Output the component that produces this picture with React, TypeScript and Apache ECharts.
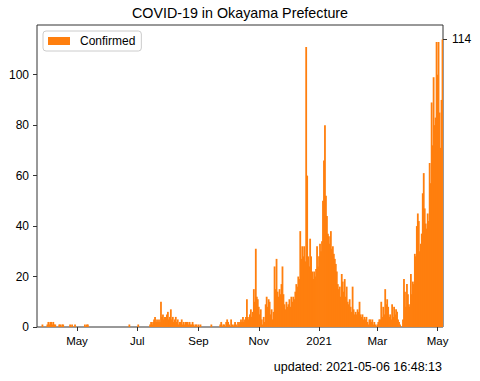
import React, { useEffect, useRef } from 'react';
import * as echarts from 'echarts';

// Daily confirmed cases, Okayama Prefecture, from 2020-03-22 to 2021-05-06
const startDateUTC = Date.UTC(2020, 2, 22);
const mar2020 = [0, 0, 0, 0, 0, 1, 0, 0, 0, 0];
const apr2020 = [1, 2, 1, 2, 2, 1, 2, 1, 1, 0, 0, 0, 1, 1, 0, 1, 1, 0, 0, 0, 0, 0, 0, 1, 0, 1, 0, 0, 1, 0];
const may2020 = [0, 0, 0, 0, 0, 0, 0, 0, 1, 0, 1, 1, 0, 0, 0, 0, 0, 0, 0, 0, 0, 0, 0, 0, 0, 0, 0, 0, 0, 0, 0];
const jun2020 = [0, 0, 0, 0, 0, 0, 0, 0, 0, 0, 0, 0, 0, 0, 0, 0, 0, 0, 0, 0, 0, 0, 1, 0, 0, 0, 0, 0, 0, 0];
const jul2020 = [0, 1, 0, 0, 0, 0, 0, 0, 0, 0, 0, 0, 0, 1, 2, 1, 2, 3, 4, 2, 3, 2, 3, 2, 10, 4, 5, 3, 4, 4, 5];
const aug2020 = [6, 3, 4, 7, 3, 4, 2, 3, 4, 2, 3, 1, 2, 2, 3, 1, 2, 1, 2, 2, 2, 1, 2, 1, 1, 2, 1, 0, 1, 1, 0];
const sep2020 = [1, 0, 1, 0, 0, 0, 0, 0, 0, 0, 0, 0, 0, 1, 0, 0, 0, 0, 0, 0, 0, 0, 1, 2, 0, 1, 1, 0, 2, 3];
const oct2020 = [2, 1, 0, 3, 1, 0, 1, 2, 1, 0, 2, 1, 2, 3, 2, 4, 2, 3, 4, 11, 4, 3, 5, 7, 4, 6, 15, 10, 31, 12, 11];
const nov2020 = [8, 5, 7, 3, 1, 4, 2, 9, 12, 8, 11, 10, 5, 7, 3, 6, 24, 15, 27, 14, 12, 15, 13, 17, 24, 13, 9, 7, 10, 8];
const dec2020 = [9, 11, 8, 12, 10, 12, 11, 14, 17, 16, 20, 19, 38, 27, 32, 28, 32, 26, 111, 60, 28, 24, 35, 28, 22, 19, 22, 20, 23, 32, 24];
const jan2021 = [28, 33, 30, 34, 50, 66, 80, 52, 44, 37, 36, 33, 38, 31, 32, 29, 27, 25, 22, 17, 15, 16, 12, 21, 18, 14, 19, 12, 16, 10, 9];
const feb2021 = [11, 8, 6, 16, 7, 5, 6, 5, 7, 6, 10, 5, 4, 5, 3, 4, 3, 4, 2, 1, 3, 3, 2, 3, 1, 2, 1, 0];
const mar2021 = [1, 2, 3, 3, 10, 4, 8, 5, 15, 9, 11, 8, 4, 5, 3, 9, 4, 8, 5, 7, 6, 3, 2, 1, 0, 0, 3, 19, 14, 8, 17];
const apr2021 = [13, 9, 8, 21, 13, 18, 17, 29, 28, 40, 45, 42, 30, 33, 37, 53, 61, 47, 41, 39, 45, 42, 65, 57, 89, 72, 99, 80, 83, 113];
const may2021 = [100, 113, 85, 71, 90, 114];

const titleText = 'COVID-19 in Okayama Prefecture';
const seriesName = 'Confirmed';
const updatedText = 'updated: 2021-05-06 16:48:13';
const monthNames = ['Jan', 'Feb', 'Mar', 'Apr', 'May', 'Jun', 'Jul', 'Aug', 'Sep', 'Oct', 'Nov', 'Dec'];

const confirmed = [
  ...mar2020, ...apr2020, ...may2020, ...jun2020, ...jul2020, ...aug2020, ...sep2020,
  ...oct2020, ...nov2020, ...dec2020, ...jan2021, ...feb2021, ...mar2021, ...apr2021, ...may2021,
];
const dates = confirmed.map((_, i) => new Date(startDateUTC + i * 86400000).toISOString().slice(0, 10));
const lastValue = confirmed[confirmed.length - 1];
const yMax = Math.max(...confirmed) * 1.05;
const leftTicks = [0, 20, 40, 60, 80, 100];

const FONT = '"Liberation Sans", Arial, sans-serif';

const isMajor = (_i: number, value: string) => {
  const [, m, d] = value.split('-');
  return d === '01' && Number(m) % 2 === 1;
};

export default function App() {
  const ref = useRef<HTMLDivElement>(null);
  useEffect(() => {
    if (!ref.current) return;
    const chart = echarts.init(ref.current, undefined, { renderer: 'svg' });
    chart.setOption({
      animation: false,
      backgroundColor: '#fff',
      title: {
        text: titleText,
        left: 'center',
        top: 6,
        padding: 0,
        textStyle: { fontSize: 14.3, fontWeight: 'normal', color: '#000', fontFamily: FONT },
      },
      legend: {
        left: 43,
        top: 31,
        padding: [4, 6, 4, 5],
        itemWidth: 22,
        itemHeight: 8,
        icon: 'rect',
        borderColor: '#ccc',
        borderWidth: 1,
        borderRadius: 3,
        backgroundColor: 'rgba(255,255,255,0.85)',
        textStyle: { fontSize: 12, lineHeight: 12, color: '#000', fontFamily: FONT, padding: [0, 0, 0, 5] },
        data: [seriesName],
      },
      grid: {
        left: 37,
        right: 37,
        top: 25,
        bottom: 54,
        show: true,
        borderColor: '#333',
        borderWidth: 1,
        containLabel: false,
      },
      xAxis: {
        type: 'category',
        data: dates,
        axisLine: { show: false },
        axisTick: { show: true, alignWithLabel: true, interval: isMajor, length: 4, lineStyle: { color: '#333' } },
        axisLabel: {
          interval: isMajor,
          margin: 8,
          fontSize: 11.5,
          color: '#000',
          fontFamily: FONT,
          formatter: (v: string) => {
            const [y, m] = v.split('-');
            return Number(m) === 1 ? y : monthNames[Number(m) - 1];
          },
        },
        splitLine: { show: false },
      },
      yAxis: [
        {
          type: 'value',
          min: 0,
          max: yMax,
          interval: 20,
          axisLine: { show: false },
          axisTick: { show: true, length: 4, lineStyle: { color: '#333' }, customValues: leftTicks },
          axisLabel: {
            margin: 8, fontSize: 12, color: '#000', fontFamily: FONT, customValues: leftTicks,
            formatter: (v: number) => (v % 20 === 0 ? String(v) : ''),
          },
          splitLine: { show: false },
        },
        {
          type: 'value',
          position: 'right',
          min: 0,
          max: yMax,
          axisLine: { show: false },
          axisTick: { show: true, length: 4, lineStyle: { color: '#333' }, customValues: [lastValue] },
          axisLabel: { margin: 9, fontSize: 12, color: '#000', fontFamily: FONT, customValues: [lastValue] },
          splitLine: { show: false },
        },
      ],
      series: [
        {
          name: seriesName,
          type: 'bar',
          data: confirmed,
          barWidth: 1.8,
          barGap: '-100%',
          itemStyle: { color: '#ff7f0e' },
        },
      ],
      graphic: [
        {
          type: 'text',
          right: 38,
          top: 360,
          style: { text: updatedText, fontSize: 12.5, fill: '#000', fontFamily: FONT },
        },
      ],
    });
    return () => chart.dispose();
  }, []);
  return <div ref={ref} style={{ position: 'fixed', left: 0, top: 0, width: 480, height: 381 }} />;
}
